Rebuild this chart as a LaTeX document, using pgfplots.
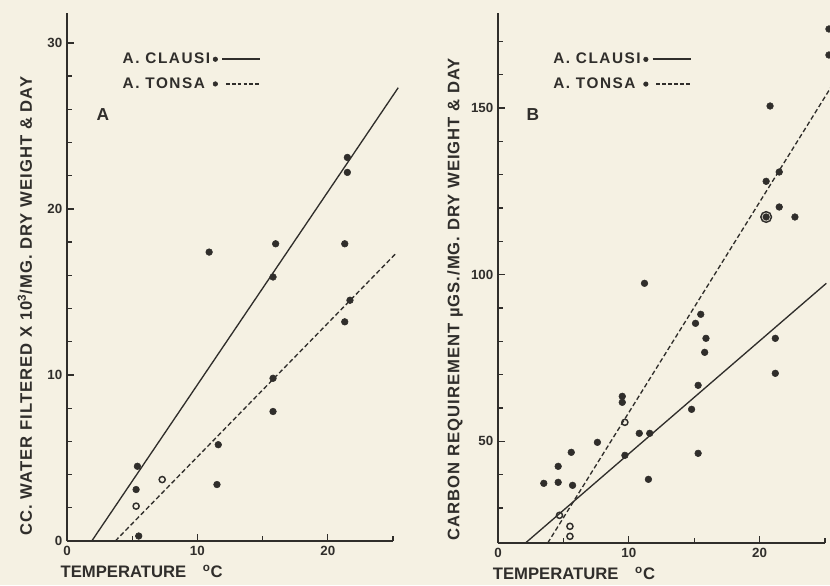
\documentclass[border=0pt]{standalone}
\usepackage{pgfplots}
\pgfplotsset{compat=1.18}
\usepackage{fontspec}
\setmainfont{Liberation Sans}
\newfontfamily\ylabfont[LetterSpace=6]{Liberation Sans}
\newfontfamily\legfont[LetterSpace=10]{Liberation Sans}
\usepackage{xcolor}
\definecolor{paper}{HTML}{F5F1E3}
\definecolor{ink}{HTML}{302E2B}
\pagecolor{paper}

\pgfplotsset{
  scan/.style={
    scale only axis,
    axis x line=bottom, axis y line=left,
    axis line style={-, line width=1.4pt, ink},
    tick align=inside, major tick length=5pt, minor tick length=4pt,
    every tick/.style={ink, line width=1pt},
    tick label style={font=\bfseries\fontsize{10}{12}\selectfont, text=ink},
    /pgf/number format/assume math mode=true,
    x label style={font=\bfseries\fontsize{12.5}{14}\selectfont, text=ink},
    y label style={font=\ylabfont\bfseries\fontsize{12.5}{14}\selectfont, text=ink},
    xmin=0, xmax=25, xtick={0,10,20}, minor xtick={5,15,25},
    clip=false,
    legend plot pos=right,
    legend cell align=left,
    legend style={draw=none, fill=none, inner sep=0pt, row sep=5pt,
      font=\legfont\bfseries\fontsize{11.5}{13}\selectfont, text=ink,
      anchor=north west},
  },
  dot/.style={only marks, mark=*, mark size=2.5pt, color=ink, mark options={fill=ink}},
  ring/.style={only marks, mark=o, mark size=2.3pt, color=ink, mark options={line width=1.1pt}},
  fit/.style={no marks, color=ink, line width=1pt},
  fitd/.style={no marks, color=ink, line width=1pt, dash pattern=on 3.5pt off 2pt},
  legsolid/.style={legend image code/.code={
    \fill[ink] (0.02cm,0cm) circle (1.7pt);
    \draw[ink, line width=1.5pt] (0.2cm,0cm) -- (1.2cm,0cm);}},
  legdash/.style={legend image code/.code={
    \fill[ink] (0.02cm,0cm) circle (1.7pt);
    \draw[ink, line width=1.5pt, dash pattern=on 2.8pt off 1.6pt] (0.3cm,0cm) -- (1.2cm,0cm);}},
}

\begin{document}
\begin{tikzpicture}
\useasboundingbox (0,0) rectangle (622.5pt,438.75pt);

% Panel A
\begin{axis}[scan,
  at={(50.25pt,33pt)}, anchor=south west,
  width=244.5pt, height=396pt,
  ymin=0, ymax=31.8, ytick={0,10,20,30}, minor ytick={2,4,...,28},
  xlabel={TEMPERATURE\quad\textsuperscript{o}C},
  x label style={at={(axis description cs:0,0)}, anchor=north west, inner sep=0pt, xshift=-5pt, yshift=-18pt},
  ylabel={CC. WATER FILTERED X 10\textsuperscript{3}/MG. DRY WEIGHT \& DAY},
  y label style={at={(axis description cs:-0.129,0.445)}, anchor=center},
  legend style={at={(rel axis cs:0.162,0.93)}},
]
\addlegendimage{legsolid}\addlegendentry{A. CLAUSI}
\addlegendimage{legdash}\addlegendentry{A. TONSA}
\addplot[fit] coordinates {(1.9,0) (25.4,27.3)};
\addplot[fitd] coordinates {(3.7,0) (25.2,17.3)};
% A. clausi
\addplot[dot] coordinates {(21.5,23.1) (21.5,22.2) (10.9,17.4) (16.0,17.9) (21.3,17.9)
  (15.8,15.9) (5.4,4.5) (5.3,3.1) (5.5,0.3)};
% A. tonsa
\addplot[dot] coordinates {(21.7,14.5) (21.3,13.2) (15.8,9.8) (15.8,7.8) (11.6,5.8) (11.5,3.4)};
\addplot[ring] coordinates {(7.3,3.7) (5.3,2.1)};
\node[font=\bfseries\fontsize{13}{14}\selectfont, text=ink] at (rel axis cs:0.11,0.807) {A};
\end{axis}

% Panel B
\begin{axis}[scan,
  at={(373.5pt,31.5pt)}, anchor=south west,
  width=245.25pt, height=397.5pt,
  ymin=19.5, ymax=178.5, ytick={50,100,150}, minor ytick={30,40,60,70,80,90,110,120,130,140,160,170},
  xlabel={TEMPERATURE\quad\textsuperscript{o}C},
  x label style={at={(axis description cs:0,0)}, anchor=north west, inner sep=0pt, xshift=-4pt, yshift=-18pt},
  ylabel={CARBON REQUIREMENT \textmu GS./MG. DRY WEIGHT \& DAY},
  y label style={at={(axis description cs:-0.131,0.46)}, anchor=center},
  legend style={at={(rel axis cs:0.16,0.93)}},
]
\addlegendimage{legsolid}\addlegendentry{A. CLAUSI}
\addlegendimage{legdash}\addlegendentry{A. TONSA}
\addplot[fit] coordinates {(2.1,19.5) (25.1,97.4)};
\addplot[fitd] coordinates {(3.8,19.5) (25.5,156.5)};
% A. clausi
\addplot[dot] coordinates {(21.2,80.9) (21.2,70.4) (15.9,80.9) (15.8,76.7) (15.3,66.8)
  (14.8,59.6) (15.3,46.4) (11.6,52.4) (10.8,52.4) (11.5,38.6) (9.7,45.8) (7.6,49.7)
  (5.6,46.7) (4.6,42.5) (3.5,37.4) (4.6,37.7) (5.7,36.8)};
% A. tonsa
\addplot[dot] coordinates {(25.3,173.7) (25.3,165.9) (20.8,150.6) (20.5,128) (21.5,130.8)
  (21.5,120.3) (22.7,117.3) (11.2,97.4) (15.5,88.1) (15.1,85.4) (9.5,63.5) (9.5,61.7)
  (20.5,117.3)};
\addplot[ring] coordinates {(9.7,55.7) (4.7,27.8) (5.5,24.5) (5.5,21.5)};
\addplot[ring, mark size=4pt] coordinates {(20.5,117.3)};
\node[font=\bfseries\fontsize{13}{14}\selectfont, text=ink] at (rel axis cs:0.107,0.808) {B};
\end{axis}
\end{tikzpicture}
\end{document}
